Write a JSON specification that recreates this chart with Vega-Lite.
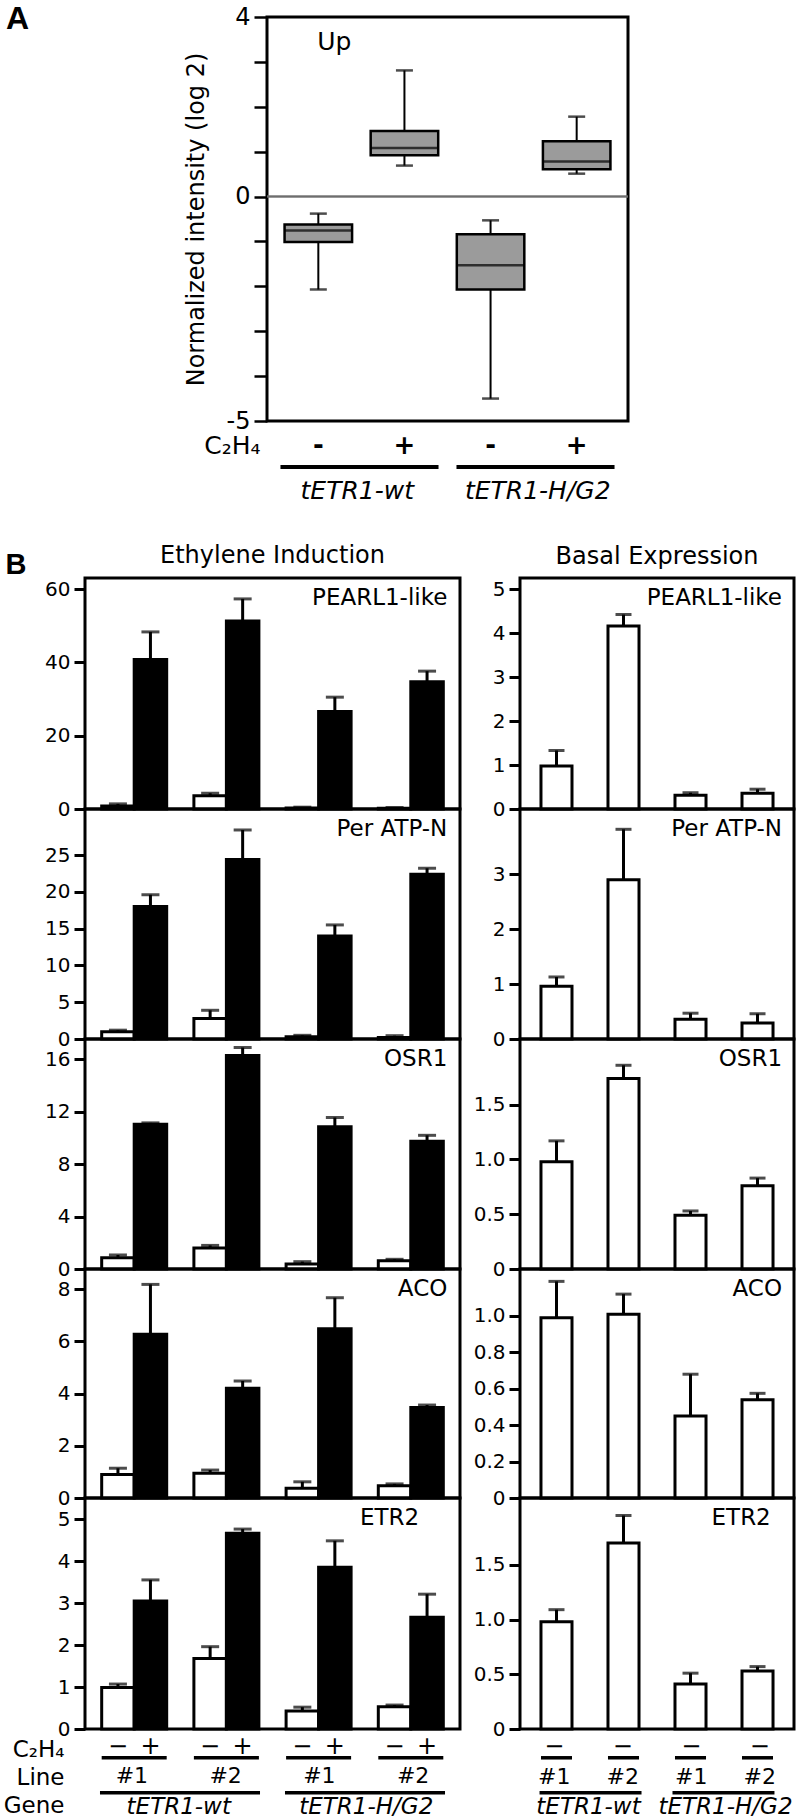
{
"$schema":"https://vega.github.io/schema/vega-lite/v6.json",
"padding":{"left":1,"top":1,"right":0,"bottom":0},
"background":"white",
"config":{
 "view":{"stroke":null},
 "font":"DejaVu Sans",
 "axis":{"domain":false,"grid":false,"tickColor":"black","tickWidth":3,"tickSize":11,"labelColor":"black","labelFont":"DejaVu Sans","labelFontSize":20,"labelPadding":4,"labelFlush":false,"labelOverlap":false,"labelBound":false,"titleColor":"black","titleFont":"DejaVu Sans","titleFontWeight":"normal"},
 "title":{"font":"DejaVu Sans","fontSize":24,"fontWeight":"normal","color":"black"},
 "text":{"font":"DejaVu Sans","color":"black"}
},
"datasets":{
 "boxes":[
  {"cond":"wt-","construct":"tETR1-wt","c2h4":"-","lower":-2.07,"q1":-1.015,"median":-0.755,"q3":-0.62,"upper":-0.38},
  {"cond":"wt+","construct":"tETR1-wt","c2h4":"+","lower":0.69,"q1":0.92,"median":1.08,"q3":1.46,"upper":2.81},
  {"cond":"hg-","construct":"tETR1-H/G2","c2h4":"-","lower":-4.5,"q1":-2.07,"median":-1.53,"q3":-0.84,"upper":-0.53},
  {"cond":"hg+","construct":"tETR1-H/G2","c2h4":"+","lower":0.51,"q1":0.61,"median":0.78,"q3":1.23,"upper":1.78}
 ],
 "induction":[
  {"gene":"PEARL1-like","construct":"tETR1-wt","line":"#1","grp":"wt#1","c2h4":"−","value":0.8,"upper":1.4},
  {"gene":"PEARL1-like","construct":"tETR1-wt","line":"#1","grp":"wt#1","c2h4":"+","value":40.8,"upper":48.3},
  {"gene":"PEARL1-like","construct":"tETR1-wt","line":"#2","grp":"wt#2","c2h4":"−","value":3.6,"upper":4.3},
  {"gene":"PEARL1-like","construct":"tETR1-wt","line":"#2","grp":"wt#2","c2h4":"+","value":51.3,"upper":57.3},
  {"gene":"PEARL1-like","construct":"tETR1-H/G2","line":"#1","grp":"hg#1","c2h4":"−","value":0.3,"upper":0.5},
  {"gene":"PEARL1-like","construct":"tETR1-H/G2","line":"#1","grp":"hg#1","c2h4":"+","value":26.6,"upper":30.5},
  {"gene":"PEARL1-like","construct":"tETR1-H/G2","line":"#2","grp":"hg#2","c2h4":"−","value":0.2,"upper":0.4},
  {"gene":"PEARL1-like","construct":"tETR1-H/G2","line":"#2","grp":"hg#2","c2h4":"+","value":34.7,"upper":37.6},
  {"gene":"Per ATP-N","construct":"tETR1-wt","line":"#1","grp":"wt#1","c2h4":"−","value":1.0,"upper":1.2},
  {"gene":"Per ATP-N","construct":"tETR1-wt","line":"#1","grp":"wt#1","c2h4":"+","value":18.0,"upper":19.6},
  {"gene":"Per ATP-N","construct":"tETR1-wt","line":"#2","grp":"wt#2","c2h4":"−","value":2.8,"upper":3.9},
  {"gene":"Per ATP-N","construct":"tETR1-wt","line":"#2","grp":"wt#2","c2h4":"+","value":24.4,"upper":28.4},
  {"gene":"Per ATP-N","construct":"tETR1-H/G2","line":"#1","grp":"hg#1","c2h4":"−","value":0.3,"upper":0.5},
  {"gene":"Per ATP-N","construct":"tETR1-H/G2","line":"#1","grp":"hg#1","c2h4":"+","value":14.0,"upper":15.5},
  {"gene":"Per ATP-N","construct":"tETR1-H/G2","line":"#2","grp":"hg#2","c2h4":"−","value":0.2,"upper":0.45},
  {"gene":"Per ATP-N","construct":"tETR1-H/G2","line":"#2","grp":"hg#2","c2h4":"+","value":22.4,"upper":23.2},
  {"gene":"OSR1","construct":"tETR1-wt","line":"#1","grp":"wt#1","c2h4":"−","value":0.86,"upper":1.07},
  {"gene":"OSR1","construct":"tETR1-wt","line":"#1","grp":"wt#1","c2h4":"+","value":11.05,"upper":11.15},
  {"gene":"OSR1","construct":"tETR1-wt","line":"#2","grp":"wt#2","c2h4":"−","value":1.6,"upper":1.8},
  {"gene":"OSR1","construct":"tETR1-wt","line":"#2","grp":"wt#2","c2h4":"+","value":16.3,"upper":16.9},
  {"gene":"OSR1","construct":"tETR1-H/G2","line":"#1","grp":"hg#1","c2h4":"−","value":0.38,"upper":0.56},
  {"gene":"OSR1","construct":"tETR1-H/G2","line":"#1","grp":"hg#1","c2h4":"+","value":10.85,"upper":11.56},
  {"gene":"OSR1","construct":"tETR1-H/G2","line":"#2","grp":"hg#2","c2h4":"−","value":0.63,"upper":0.74},
  {"gene":"OSR1","construct":"tETR1-H/G2","line":"#2","grp":"hg#2","c2h4":"+","value":9.75,"upper":10.2},
  {"gene":"ACO","construct":"tETR1-wt","line":"#1","grp":"wt#1","c2h4":"−","value":0.9,"upper":1.14},
  {"gene":"ACO","construct":"tETR1-wt","line":"#1","grp":"wt#1","c2h4":"+","value":6.27,"upper":8.18},
  {"gene":"ACO","construct":"tETR1-wt","line":"#2","grp":"wt#2","c2h4":"−","value":0.95,"upper":1.07},
  {"gene":"ACO","construct":"tETR1-wt","line":"#2","grp":"wt#2","c2h4":"+","value":4.2,"upper":4.48},
  {"gene":"ACO","construct":"tETR1-H/G2","line":"#1","grp":"hg#1","c2h4":"−","value":0.37,"upper":0.62},
  {"gene":"ACO","construct":"tETR1-H/G2","line":"#1","grp":"hg#1","c2h4":"+","value":6.48,"upper":7.67},
  {"gene":"ACO","construct":"tETR1-H/G2","line":"#2","grp":"hg#2","c2h4":"−","value":0.47,"upper":0.54},
  {"gene":"ACO","construct":"tETR1-H/G2","line":"#2","grp":"hg#2","c2h4":"+","value":3.47,"upper":3.56},
  {"gene":"ETR2","construct":"tETR1-wt","line":"#1","grp":"wt#1","c2h4":"−","value":0.99,"upper":1.07},
  {"gene":"ETR2","construct":"tETR1-wt","line":"#1","grp":"wt#1","c2h4":"+","value":3.05,"upper":3.55},
  {"gene":"ETR2","construct":"tETR1-wt","line":"#2","grp":"wt#2","c2h4":"−","value":1.68,"upper":1.96},
  {"gene":"ETR2","construct":"tETR1-wt","line":"#2","grp":"wt#2","c2h4":"+","value":4.66,"upper":4.76},
  {"gene":"ETR2","construct":"tETR1-H/G2","line":"#1","grp":"hg#1","c2h4":"−","value":0.43,"upper":0.52},
  {"gene":"ETR2","construct":"tETR1-H/G2","line":"#1","grp":"hg#1","c2h4":"+","value":3.85,"upper":4.48},
  {"gene":"ETR2","construct":"tETR1-H/G2","line":"#2","grp":"hg#2","c2h4":"−","value":0.53,"upper":0.57},
  {"gene":"ETR2","construct":"tETR1-H/G2","line":"#2","grp":"hg#2","c2h4":"+","value":2.66,"upper":3.21}
 ],
 "basal":[
  {"gene":"PEARL1-like","construct":"tETR1-wt","line":"#1","grp":"wt#1","c2h4":"−","value":0.98,"upper":1.33},
  {"gene":"PEARL1-like","construct":"tETR1-wt","line":"#2","grp":"wt#2","c2h4":"−","value":4.16,"upper":4.42},
  {"gene":"PEARL1-like","construct":"tETR1-H/G2","line":"#1","grp":"hg#1","c2h4":"−","value":0.31,"upper":0.37},
  {"gene":"PEARL1-like","construct":"tETR1-H/G2","line":"#2","grp":"hg#2","c2h4":"−","value":0.36,"upper":0.45},
  {"gene":"Per ATP-N","construct":"tETR1-wt","line":"#1","grp":"wt#1","c2h4":"−","value":0.96,"upper":1.13},
  {"gene":"Per ATP-N","construct":"tETR1-wt","line":"#2","grp":"wt#2","c2h4":"−","value":2.9,"upper":3.82},
  {"gene":"Per ATP-N","construct":"tETR1-H/G2","line":"#1","grp":"hg#1","c2h4":"−","value":0.36,"upper":0.47},
  {"gene":"Per ATP-N","construct":"tETR1-H/G2","line":"#2","grp":"hg#2","c2h4":"−","value":0.29,"upper":0.46},
  {"gene":"OSR1","construct":"tETR1-wt","line":"#1","grp":"wt#1","c2h4":"−","value":0.98,"upper":1.17},
  {"gene":"OSR1","construct":"tETR1-wt","line":"#2","grp":"wt#2","c2h4":"−","value":1.74,"upper":1.86},
  {"gene":"OSR1","construct":"tETR1-H/G2","line":"#1","grp":"hg#1","c2h4":"−","value":0.49,"upper":0.53},
  {"gene":"OSR1","construct":"tETR1-H/G2","line":"#2","grp":"hg#2","c2h4":"−","value":0.76,"upper":0.83},
  {"gene":"ACO","construct":"tETR1-wt","line":"#1","grp":"wt#1","c2h4":"−","value":0.99,"upper":1.19},
  {"gene":"ACO","construct":"tETR1-wt","line":"#2","grp":"wt#2","c2h4":"−","value":1.01,"upper":1.12},
  {"gene":"ACO","construct":"tETR1-H/G2","line":"#1","grp":"hg#1","c2h4":"−","value":0.45,"upper":0.68},
  {"gene":"ACO","construct":"tETR1-H/G2","line":"#2","grp":"hg#2","c2h4":"−","value":0.54,"upper":0.575},
  {"gene":"ETR2","construct":"tETR1-wt","line":"#1","grp":"wt#1","c2h4":"−","value":0.98,"upper":1.09},
  {"gene":"ETR2","construct":"tETR1-wt","line":"#2","grp":"wt#2","c2h4":"−","value":1.7,"upper":1.95},
  {"gene":"ETR2","construct":"tETR1-H/G2","line":"#1","grp":"hg#1","c2h4":"−","value":0.41,"upper":0.51},
  {"gene":"ETR2","construct":"tETR1-H/G2","line":"#2","grp":"hg#2","c2h4":"−","value":0.53,"upper":0.57}
 ]
},
"columns":1,
"align":"each",
"spacing":36,
"concat":[
 {"bounds":"flush","spacing":0,"hconcat":[
  {"width":182,"height":404,"data":{"values":[]},"mark":{"type":"point","opacity":0},"encoding":{}},
  {"width":361,"height":404,"view":{"stroke":"black","strokeWidth":3},"data":{"name":"boxes"},
   "title":{"text":"A","anchor":"start","frame":"group","dx":-261,"offset":-31,"font":"Liberation Sans","fontSize":32,"fontWeight":"bold"},
   "resolve":{"scale":{"x":"independent"}},
   "layer":[
    {"mark":{"type":"rule","color":"#6e6e6e","strokeWidth":1.5},"encoding":{"y":{"datum":0,"type":"quantitative","scale":{"domain":[-5,4],"nice":false,"zero":false},"axis":{"values":[-5,-4,-3,-2,-1,0,1,2,3,4],"labelExpr":"datum.value == 4 ? '4' : datum.value == 0 ? '0' : datum.value == -5 ? '-5' : ''","labelOverlap":false,"tickSize":13,"tickWidth":2.5,"labelFontSize":24,"labelPadding":4,"title":"Normalized intensity (log 2)","titleFontSize":24,"titlePadding":18}}}},
    {"mark":{"type":"rule","color":"black","strokeWidth":2},"encoding":{
      "x":{"field":"cond","type":"nominal","sort":null,"scale":{"domain":["wt-","wt+","hg-","hg+"],"paddingInner":0.216,"paddingOuter":0.204},"axis":{"labelExpr":"slice(datum.value, -1)","ticks":false,"tickSize":0,"domain":false,"labelAngle":0,"labelPadding":24,"labelBaseline":"middle","labelFontSize":26,"labelFontWeight":"bold","title":"C₂H₄","titleAngle":0,"titleAlign":"right","titleBaseline":"middle","titleX":-7,"titleY":24,"titleFontSize":25}},
      "y":{"field":"lower","type":"quantitative","scale":{"domain":[-5,4],"nice":false,"zero":false}},"y2":{"field":"upper"}}},
    {"mark":{"type":"bar","fill":"#9b9b9b","stroke":"black","strokeWidth":2.5},"encoding":{
      "x":{"field":"cond","type":"nominal","sort":null,"scale":{"domain":["wt-","wt+","hg-","hg+"],"paddingInner":0.216,"paddingOuter":0.204},"axis":null},
      "y":{"field":"q1","type":"quantitative","scale":{"domain":[-5,4],"nice":false,"zero":false}},"y2":{"field":"q3"}}},
    {"mark":{"type":"tick","orient":"horizontal","color":"black","size":67.5,"thickness":2.5},"encoding":{
      "x":{"field":"cond","type":"nominal","sort":null,"scale":{"domain":["wt-","wt+","hg-","hg+"],"paddingInner":0.216,"paddingOuter":0.204},"axis":null},
      "y":{"field":"median","type":"quantitative","scale":{"domain":[-5,4],"nice":false,"zero":false}}}},
    {"mark":{"type":"tick","orient":"horizontal","color":"black","size":17,"thickness":2.5},"encoding":{
      "x":{"field":"cond","type":"nominal","sort":null,"scale":{"domain":["wt-","wt+","hg-","hg+"],"paddingInner":0.216,"paddingOuter":0.204},"axis":null},
      "y":{"field":"lower","type":"quantitative","scale":{"domain":[-5,4],"nice":false,"zero":false}}}},
    {"mark":{"type":"tick","orient":"horizontal","color":"black","size":17,"thickness":2.5},"encoding":{
      "x":{"field":"cond","type":"nominal","sort":null,"scale":{"domain":["wt-","wt+","hg-","hg+"],"paddingInner":0.216,"paddingOuter":0.204},"axis":null},
      "y":{"field":"upper","type":"quantitative","scale":{"domain":[-5,4],"nice":false,"zero":false}}}},
    {"transform":[{"filter":"datum.cond == 'wt-'"}],"mark":{"type":"text","align":"left","baseline":"top","dx":5,"dy":13,"fontSize":25},"encoding":{
      "x":{"field":"cond","type":"nominal","sort":null,"bandPosition":0,"scale":{"domain":["wt-","wt+","hg-","hg+"],"paddingInner":0.216,"paddingOuter":0.204},"axis":null},
      "y":{"datum":4,"type":"quantitative","scale":{"domain":[-5,4],"nice":false,"zero":false}},"text":{"value":"Up"}}},
    {"transform":[{"filter":"datum.c2h4 == '-'"}],"mark":{"type":"bar","color":"black"},"encoding":{
      "x":{"field":"construct","type":"nominal","sort":null,"scale":{"domain":["tETR1-wt","tETR1-H/G2"],"paddingInner":0.102,"paddingOuter":0.0765},"axis":null},
      "y":{"datum":-5.98,"type":"quantitative","scale":{"domain":[-5,4],"nice":false,"zero":false}},"y2":{"datum":-6.07}}},
    {"transform":[{"filter":"datum.c2h4 == '-'"}],"mark":{"type":"text","baseline":"middle","fontSize":25,"fontStyle":"italic"},"encoding":{
      "x":{"field":"construct","type":"nominal","sort":null,"scale":{"domain":["tETR1-wt","tETR1-H/G2"],"paddingInner":0.102,"paddingOuter":0.0765},"axis":null},
      "y":{"datum":-6.56,"type":"quantitative","scale":{"domain":[-5,4],"nice":false,"zero":false}},"text":{"field":"construct"}}}
   ]}
 ]},
 {"columns":2,"bounds":"flush","align":"each","spacing":{"row":0,"column":60},"concat":[
   {"width":375,"height":231,"view":{"stroke":"black","strokeWidth":3},"data":{"name":"induction"},"transform":[{"filter":"datum.gene == 'PEARL1-like'"}],
    "title":{"text":"Ethylene Induction","anchor":"middle","offset":-18},
    "layer":[
     {"mark":{"type":"bar","stroke":"black","strokeWidth":3},"encoding":{"x":{"field":"grp","type":"nominal","sort":null,"scale":{"domain":["wt#1","wt#2","hg#1","hg#2"],"paddingInner":0.295,"paddingOuter":0.181},"axis":null},"xOffset":{"field":"c2h4","type":"nominal","sort":null,"scale":{"domain":["−","+"],"paddingInner":0,"paddingOuter":0}},"y":{"field":"value","type":"quantitative","scale":{"domain":[0,63],"nice":false},"axis":{"values":[0,10,20,30,40,50,60],"format":"d","labelOverlap":false,"title":"B","titleAngle":0,"titleAlign":"left","titleBaseline":"alphabetic","titleX":-80,"titleY":-5,"titleFont":"Liberation Sans","titleFontSize":29,"titleFontWeight":"bold"}},"fill":{"field":"c2h4","type":"nominal","scale":{"domain":["−","+"],"range":["white","black"]},"legend":null}}},
     {"mark":{"type":"rule","color":"black","strokeWidth":3},"encoding":{"x":{"field":"grp","type":"nominal","sort":null,"scale":{"domain":["wt#1","wt#2","hg#1","hg#2"],"paddingInner":0.295,"paddingOuter":0.181},"axis":null},"xOffset":{"field":"c2h4","type":"nominal","sort":null,"scale":{"domain":["−","+"],"paddingInner":0,"paddingOuter":0}},"y":{"field":"value","type":"quantitative","scale":{"domain":[0,63],"nice":false}},"y2":{"field":"upper"}}},
     {"mark":{"type":"tick","orient":"horizontal","color":"black","size":18,"thickness":3},"encoding":{"x":{"field":"grp","type":"nominal","sort":null,"scale":{"domain":["wt#1","wt#2","hg#1","hg#2"],"paddingInner":0.295,"paddingOuter":0.181},"axis":null},"xOffset":{"field":"c2h4","type":"nominal","sort":null,"scale":{"domain":["−","+"],"paddingInner":0,"paddingOuter":0}},"y":{"field":"upper","type":"quantitative","scale":{"domain":[0,63],"nice":false}}}},
     {"transform":[{"filter":"datum.grp == 'hg#2' && datum.c2h4 == '+'"}],"mark":{"type":"text","align":"right","baseline":"top","dx":4,"dy":9,"fontSize":23},"encoding":{"x":{"field":"grp","type":"nominal","sort":null,"bandPosition":1,"scale":{"domain":["wt#1","wt#2","hg#1","hg#2"],"paddingInner":0.295,"paddingOuter":0.181},"axis":null},"y":{"datum":63,"type":"quantitative","scale":{"domain":[0,63],"nice":false}},"text":{"field":"gene"}}}
    ]},
   {"width":274,"height":231,"view":{"stroke":"black","strokeWidth":3},"data":{"name":"basal"},"transform":[{"filter":"datum.gene == 'PEARL1-like'"}],
    "title":{"text":"Basal Expression","anchor":"middle","offset":9},
    "layer":[
     {"mark":{"type":"bar","fill":"white","stroke":"black","strokeWidth":3},"encoding":{"x":{"field":"grp","type":"nominal","sort":null,"scale":{"domain":["wt#1","wt#2","hg#1","hg#2"],"paddingInner":0.537,"paddingOuter":0.313},"axis":null},"y":{"field":"value","type":"quantitative","scale":{"domain":[0,5.25],"nice":false},"axis":{"values":[0,1,2,3,4,5],"format":"d","labelOverlap":false,"title":null}}}},
     {"mark":{"type":"rule","color":"black","strokeWidth":3},"encoding":{"x":{"field":"grp","type":"nominal","sort":null,"scale":{"domain":["wt#1","wt#2","hg#1","hg#2"],"paddingInner":0.537,"paddingOuter":0.313},"axis":null},"y":{"field":"value","type":"quantitative","scale":{"domain":[0,5.25],"nice":false}},"y2":{"field":"upper"}}},
     {"mark":{"type":"tick","orient":"horizontal","color":"black","size":16,"thickness":3},"encoding":{"x":{"field":"grp","type":"nominal","sort":null,"scale":{"domain":["wt#1","wt#2","hg#1","hg#2"],"paddingInner":0.537,"paddingOuter":0.313},"axis":null},"y":{"field":"upper","type":"quantitative","scale":{"domain":[0,5.25],"nice":false}}}},
     {"transform":[{"filter":"datum.grp == 'hg#2'"}],"mark":{"type":"text","align":"right","baseline":"top","dx":9,"dy":9,"fontSize":23},"encoding":{"x":{"field":"grp","type":"nominal","sort":null,"bandPosition":1,"scale":{"domain":["wt#1","wt#2","hg#1","hg#2"],"paddingInner":0.537,"paddingOuter":0.313},"axis":null},"y":{"datum":5.25,"type":"quantitative","scale":{"domain":[0,5.25],"nice":false}},"text":{"field":"gene"}}}
    ]},
   {"width":375,"height":230,"view":{"stroke":"black","strokeWidth":3},"data":{"name":"induction"},"transform":[{"filter":"datum.gene == 'Per ATP-N'"}],
    "layer":[
     {"mark":{"type":"bar","stroke":"black","strokeWidth":3},"encoding":{"x":{"field":"grp","type":"nominal","sort":null,"scale":{"domain":["wt#1","wt#2","hg#1","hg#2"],"paddingInner":0.295,"paddingOuter":0.181},"axis":null},"xOffset":{"field":"c2h4","type":"nominal","sort":null,"scale":{"domain":["−","+"],"paddingInner":0,"paddingOuter":0}},"y":{"field":"value","type":"quantitative","scale":{"domain":[0,31.25],"nice":false},"axis":{"values":[0,5,10,15,20,25],"format":"d","labelOverlap":false,"title":null}},"fill":{"field":"c2h4","type":"nominal","scale":{"domain":["−","+"],"range":["white","black"]},"legend":null}}},
     {"mark":{"type":"rule","color":"black","strokeWidth":3},"encoding":{"x":{"field":"grp","type":"nominal","sort":null,"scale":{"domain":["wt#1","wt#2","hg#1","hg#2"],"paddingInner":0.295,"paddingOuter":0.181},"axis":null},"xOffset":{"field":"c2h4","type":"nominal","sort":null,"scale":{"domain":["−","+"],"paddingInner":0,"paddingOuter":0}},"y":{"field":"value","type":"quantitative","scale":{"domain":[0,31.25],"nice":false}},"y2":{"field":"upper"}}},
     {"mark":{"type":"tick","orient":"horizontal","color":"black","size":18,"thickness":3},"encoding":{"x":{"field":"grp","type":"nominal","sort":null,"scale":{"domain":["wt#1","wt#2","hg#1","hg#2"],"paddingInner":0.295,"paddingOuter":0.181},"axis":null},"xOffset":{"field":"c2h4","type":"nominal","sort":null,"scale":{"domain":["−","+"],"paddingInner":0,"paddingOuter":0}},"y":{"field":"upper","type":"quantitative","scale":{"domain":[0,31.25],"nice":false}}}},
     {"transform":[{"filter":"datum.grp == 'hg#2' && datum.c2h4 == '+'"}],"mark":{"type":"text","align":"right","baseline":"top","dx":4,"dy":9,"fontSize":23},"encoding":{"x":{"field":"grp","type":"nominal","sort":null,"bandPosition":1,"scale":{"domain":["wt#1","wt#2","hg#1","hg#2"],"paddingInner":0.295,"paddingOuter":0.181},"axis":null},"y":{"datum":31.25,"type":"quantitative","scale":{"domain":[0,31.25],"nice":false}},"text":{"field":"gene"}}}
    ]},
   {"width":274,"height":230,"view":{"stroke":"black","strokeWidth":3},"data":{"name":"basal"},"transform":[{"filter":"datum.gene == 'Per ATP-N'"}],
    "layer":[
     {"mark":{"type":"bar","fill":"white","stroke":"black","strokeWidth":3},"encoding":{"x":{"field":"grp","type":"nominal","sort":null,"scale":{"domain":["wt#1","wt#2","hg#1","hg#2"],"paddingInner":0.537,"paddingOuter":0.313},"axis":null},"y":{"field":"value","type":"quantitative","scale":{"domain":[0,4.19],"nice":false},"axis":{"values":[0,1,2,3],"format":"d","labelOverlap":false,"title":null}}}},
     {"mark":{"type":"rule","color":"black","strokeWidth":3},"encoding":{"x":{"field":"grp","type":"nominal","sort":null,"scale":{"domain":["wt#1","wt#2","hg#1","hg#2"],"paddingInner":0.537,"paddingOuter":0.313},"axis":null},"y":{"field":"value","type":"quantitative","scale":{"domain":[0,4.19],"nice":false}},"y2":{"field":"upper"}}},
     {"mark":{"type":"tick","orient":"horizontal","color":"black","size":16,"thickness":3},"encoding":{"x":{"field":"grp","type":"nominal","sort":null,"scale":{"domain":["wt#1","wt#2","hg#1","hg#2"],"paddingInner":0.537,"paddingOuter":0.313},"axis":null},"y":{"field":"upper","type":"quantitative","scale":{"domain":[0,4.19],"nice":false}}}},
     {"transform":[{"filter":"datum.grp == 'hg#2'"}],"mark":{"type":"text","align":"right","baseline":"top","dx":9,"dy":9,"fontSize":23},"encoding":{"x":{"field":"grp","type":"nominal","sort":null,"bandPosition":1,"scale":{"domain":["wt#1","wt#2","hg#1","hg#2"],"paddingInner":0.537,"paddingOuter":0.313},"axis":null},"y":{"datum":4.19,"type":"quantitative","scale":{"domain":[0,4.19],"nice":false}},"text":{"field":"gene"}}}
    ]},
   {"width":375,"height":230,"view":{"stroke":"black","strokeWidth":3},"data":{"name":"induction"},"transform":[{"filter":"datum.gene == 'OSR1'"}],
    "layer":[
     {"mark":{"type":"bar","stroke":"black","strokeWidth":3},"encoding":{"x":{"field":"grp","type":"nominal","sort":null,"scale":{"domain":["wt#1","wt#2","hg#1","hg#2"],"paddingInner":0.295,"paddingOuter":0.181},"axis":null},"xOffset":{"field":"c2h4","type":"nominal","sort":null,"scale":{"domain":["−","+"],"paddingInner":0,"paddingOuter":0}},"y":{"field":"value","type":"quantitative","scale":{"domain":[0,17.55],"nice":false},"axis":{"values":[0,4,8,12,16],"format":"d","labelOverlap":false,"title":null}},"fill":{"field":"c2h4","type":"nominal","scale":{"domain":["−","+"],"range":["white","black"]},"legend":null}}},
     {"mark":{"type":"rule","color":"black","strokeWidth":3},"encoding":{"x":{"field":"grp","type":"nominal","sort":null,"scale":{"domain":["wt#1","wt#2","hg#1","hg#2"],"paddingInner":0.295,"paddingOuter":0.181},"axis":null},"xOffset":{"field":"c2h4","type":"nominal","sort":null,"scale":{"domain":["−","+"],"paddingInner":0,"paddingOuter":0}},"y":{"field":"value","type":"quantitative","scale":{"domain":[0,17.55],"nice":false}},"y2":{"field":"upper"}}},
     {"mark":{"type":"tick","orient":"horizontal","color":"black","size":18,"thickness":3},"encoding":{"x":{"field":"grp","type":"nominal","sort":null,"scale":{"domain":["wt#1","wt#2","hg#1","hg#2"],"paddingInner":0.295,"paddingOuter":0.181},"axis":null},"xOffset":{"field":"c2h4","type":"nominal","sort":null,"scale":{"domain":["−","+"],"paddingInner":0,"paddingOuter":0}},"y":{"field":"upper","type":"quantitative","scale":{"domain":[0,17.55],"nice":false}}}},
     {"transform":[{"filter":"datum.grp == 'hg#2' && datum.c2h4 == '+'"}],"mark":{"type":"text","align":"right","baseline":"top","dx":4,"dy":9,"fontSize":23},"encoding":{"x":{"field":"grp","type":"nominal","sort":null,"bandPosition":1,"scale":{"domain":["wt#1","wt#2","hg#1","hg#2"],"paddingInner":0.295,"paddingOuter":0.181},"axis":null},"y":{"datum":17.55,"type":"quantitative","scale":{"domain":[0,17.55],"nice":false}},"text":{"field":"gene"}}}
    ]},
   {"width":274,"height":230,"view":{"stroke":"black","strokeWidth":3},"data":{"name":"basal"},"transform":[{"filter":"datum.gene == 'OSR1'"}],
    "layer":[
     {"mark":{"type":"bar","fill":"white","stroke":"black","strokeWidth":3},"encoding":{"x":{"field":"grp","type":"nominal","sort":null,"scale":{"domain":["wt#1","wt#2","hg#1","hg#2"],"paddingInner":0.537,"paddingOuter":0.313},"axis":null},"y":{"field":"value","type":"quantitative","scale":{"domain":[0,2.1],"nice":false},"axis":{"values":[0,0.5,1,1.5],"labelExpr":"datum.value == 0 ? '0' : format(datum.value, '.1f')","labelOverlap":false,"title":null}}}},
     {"mark":{"type":"rule","color":"black","strokeWidth":3},"encoding":{"x":{"field":"grp","type":"nominal","sort":null,"scale":{"domain":["wt#1","wt#2","hg#1","hg#2"],"paddingInner":0.537,"paddingOuter":0.313},"axis":null},"y":{"field":"value","type":"quantitative","scale":{"domain":[0,2.1],"nice":false}},"y2":{"field":"upper"}}},
     {"mark":{"type":"tick","orient":"horizontal","color":"black","size":16,"thickness":3},"encoding":{"x":{"field":"grp","type":"nominal","sort":null,"scale":{"domain":["wt#1","wt#2","hg#1","hg#2"],"paddingInner":0.537,"paddingOuter":0.313},"axis":null},"y":{"field":"upper","type":"quantitative","scale":{"domain":[0,2.1],"nice":false}}}},
     {"transform":[{"filter":"datum.grp == 'hg#2'"}],"mark":{"type":"text","align":"right","baseline":"top","dx":9,"dy":9,"fontSize":23},"encoding":{"x":{"field":"grp","type":"nominal","sort":null,"bandPosition":1,"scale":{"domain":["wt#1","wt#2","hg#1","hg#2"],"paddingInner":0.537,"paddingOuter":0.313},"axis":null},"y":{"datum":2.1,"type":"quantitative","scale":{"domain":[0,2.1],"nice":false}},"text":{"field":"gene"}}}
    ]},
   {"width":375,"height":229,"view":{"stroke":"black","strokeWidth":3},"data":{"name":"induction"},"transform":[{"filter":"datum.gene == 'ACO'"}],
    "layer":[
     {"mark":{"type":"bar","stroke":"black","strokeWidth":3},"encoding":{"x":{"field":"grp","type":"nominal","sort":null,"scale":{"domain":["wt#1","wt#2","hg#1","hg#2"],"paddingInner":0.295,"paddingOuter":0.181},"axis":null},"xOffset":{"field":"c2h4","type":"nominal","sort":null,"scale":{"domain":["−","+"],"paddingInner":0,"paddingOuter":0}},"y":{"field":"value","type":"quantitative","scale":{"domain":[0,8.77],"nice":false},"axis":{"values":[0,2,4,6,8],"format":"d","labelOverlap":false,"title":null}},"fill":{"field":"c2h4","type":"nominal","scale":{"domain":["−","+"],"range":["white","black"]},"legend":null}}},
     {"mark":{"type":"rule","color":"black","strokeWidth":3},"encoding":{"x":{"field":"grp","type":"nominal","sort":null,"scale":{"domain":["wt#1","wt#2","hg#1","hg#2"],"paddingInner":0.295,"paddingOuter":0.181},"axis":null},"xOffset":{"field":"c2h4","type":"nominal","sort":null,"scale":{"domain":["−","+"],"paddingInner":0,"paddingOuter":0}},"y":{"field":"value","type":"quantitative","scale":{"domain":[0,8.77],"nice":false}},"y2":{"field":"upper"}}},
     {"mark":{"type":"tick","orient":"horizontal","color":"black","size":18,"thickness":3},"encoding":{"x":{"field":"grp","type":"nominal","sort":null,"scale":{"domain":["wt#1","wt#2","hg#1","hg#2"],"paddingInner":0.295,"paddingOuter":0.181},"axis":null},"xOffset":{"field":"c2h4","type":"nominal","sort":null,"scale":{"domain":["−","+"],"paddingInner":0,"paddingOuter":0}},"y":{"field":"upper","type":"quantitative","scale":{"domain":[0,8.77],"nice":false}}}},
     {"transform":[{"filter":"datum.grp == 'hg#2' && datum.c2h4 == '+'"}],"mark":{"type":"text","align":"right","baseline":"top","dx":4,"dy":9,"fontSize":23},"encoding":{"x":{"field":"grp","type":"nominal","sort":null,"bandPosition":1,"scale":{"domain":["wt#1","wt#2","hg#1","hg#2"],"paddingInner":0.295,"paddingOuter":0.181},"axis":null},"y":{"datum":8.77,"type":"quantitative","scale":{"domain":[0,8.77],"nice":false}},"text":{"field":"gene"}}}
    ]},
   {"width":274,"height":229,"view":{"stroke":"black","strokeWidth":3},"data":{"name":"basal"},"transform":[{"filter":"datum.gene == 'ACO'"}],
    "layer":[
     {"mark":{"type":"bar","fill":"white","stroke":"black","strokeWidth":3},"encoding":{"x":{"field":"grp","type":"nominal","sort":null,"scale":{"domain":["wt#1","wt#2","hg#1","hg#2"],"paddingInner":0.537,"paddingOuter":0.313},"axis":null},"y":{"field":"value","type":"quantitative","scale":{"domain":[0,1.258],"nice":false},"axis":{"values":[0,0.2,0.4,0.6,0.8,1],"labelExpr":"datum.value == 0 ? '0' : format(datum.value, '.1f')","labelOverlap":false,"title":null}}}},
     {"mark":{"type":"rule","color":"black","strokeWidth":3},"encoding":{"x":{"field":"grp","type":"nominal","sort":null,"scale":{"domain":["wt#1","wt#2","hg#1","hg#2"],"paddingInner":0.537,"paddingOuter":0.313},"axis":null},"y":{"field":"value","type":"quantitative","scale":{"domain":[0,1.258],"nice":false}},"y2":{"field":"upper"}}},
     {"mark":{"type":"tick","orient":"horizontal","color":"black","size":16,"thickness":3},"encoding":{"x":{"field":"grp","type":"nominal","sort":null,"scale":{"domain":["wt#1","wt#2","hg#1","hg#2"],"paddingInner":0.537,"paddingOuter":0.313},"axis":null},"y":{"field":"upper","type":"quantitative","scale":{"domain":[0,1.258],"nice":false}}}},
     {"transform":[{"filter":"datum.grp == 'hg#2'"}],"mark":{"type":"text","align":"right","baseline":"top","dx":9,"dy":9,"fontSize":23},"encoding":{"x":{"field":"grp","type":"nominal","sort":null,"bandPosition":1,"scale":{"domain":["wt#1","wt#2","hg#1","hg#2"],"paddingInner":0.537,"paddingOuter":0.313},"axis":null},"y":{"datum":1.258,"type":"quantitative","scale":{"domain":[0,1.258],"nice":false}},"text":{"field":"gene"}}}
    ]},
   {"width":375,"height":231,"view":{"stroke":"black","strokeWidth":3},"data":{"name":"induction"},"transform":[{"filter":"datum.gene == 'ETR2'"}],
    "resolve":{"scale":{"x":"independent"}},
    "layer":[
     {"mark":{"type":"bar","stroke":"black","strokeWidth":3},"encoding":{"x":{"field":"grp","type":"nominal","sort":null,"scale":{"domain":["wt#1","wt#2","hg#1","hg#2"],"paddingInner":0.295,"paddingOuter":0.181},"axis":{"labels":false,"ticks":false,"tickSize":0,"domain":false,"title":["C₂H₄","Line","Gene"],"titleAngle":0,"titleAlign":"right","titleBaseline":"middle","titleX":-21,"titleY":20,"titleFontSize":23,"titleLineHeight":28}},"xOffset":{"field":"c2h4","type":"nominal","sort":null,"scale":{"domain":["−","+"],"paddingInner":0,"paddingOuter":0}},"y":{"field":"value","type":"quantitative","scale":{"domain":[0,5.5],"nice":false},"axis":{"values":[0,1,2,3,4,5],"format":"d","labelOverlap":false,"title":null}},"fill":{"field":"c2h4","type":"nominal","scale":{"domain":["−","+"],"range":["white","black"]},"legend":null}}},
     {"mark":{"type":"rule","color":"black","strokeWidth":3},"encoding":{"x":{"field":"grp","type":"nominal","sort":null,"scale":{"domain":["wt#1","wt#2","hg#1","hg#2"],"paddingInner":0.295,"paddingOuter":0.181},"axis":null},"xOffset":{"field":"c2h4","type":"nominal","sort":null,"scale":{"domain":["−","+"],"paddingInner":0,"paddingOuter":0}},"y":{"field":"value","type":"quantitative","scale":{"domain":[0,5.5],"nice":false}},"y2":{"field":"upper"}}},
     {"mark":{"type":"tick","orient":"horizontal","color":"black","size":18,"thickness":3},"encoding":{"x":{"field":"grp","type":"nominal","sort":null,"scale":{"domain":["wt#1","wt#2","hg#1","hg#2"],"paddingInner":0.295,"paddingOuter":0.181},"axis":null},"xOffset":{"field":"c2h4","type":"nominal","sort":null,"scale":{"domain":["−","+"],"paddingInner":0,"paddingOuter":0}},"y":{"field":"upper","type":"quantitative","scale":{"domain":[0,5.5],"nice":false}}}},
     {"transform":[{"filter":"datum.grp == 'hg#2' && datum.c2h4 == '+'"}],"mark":{"type":"text","align":"right","baseline":"top","dx":6,"dy":9,"fontSize":23},"encoding":{"x":{"field":"grp","type":"nominal","sort":null,"bandPosition":1,"scale":{"domain":["wt#1","wt#2","hg#1","hg#2"],"paddingInner":0.295,"paddingOuter":0.181},"axis":null},"y":{"datum":5.5,"type":"quantitative","scale":{"domain":[0,5.5],"nice":false}},"text":{"field":"gene"}}},
     {"mark":{"type":"text","baseline":"middle","fontSize":24},"encoding":{"x":{"field":"grp","type":"nominal","sort":null,"scale":{"domain":["wt#1","wt#2","hg#1","hg#2"],"paddingInner":0.295,"paddingOuter":0.181},"axis":null},"xOffset":{"field":"c2h4","type":"nominal","sort":null,"scale":{"domain":["−","+"],"paddingInner":0,"paddingOuter":0}},"y":{"datum":-0.43,"type":"quantitative","scale":{"domain":[0,5.5],"nice":false}},"text":{"field":"c2h4"}}},
     {"transform":[{"filter":"datum.c2h4 == '−'"}],"mark":{"type":"bar","color":"black"},"encoding":{"x":{"field":"grp","type":"nominal","sort":null,"scale":{"domain":["wt#1","wt#2","hg#1","hg#2"],"paddingInner":0.295,"paddingOuter":0.181},"axis":null},"y":{"datum":-0.64,"type":"quantitative","scale":{"domain":[0,5.5],"nice":false}},"y2":{"datum":-0.724}}},
     {"transform":[{"filter":"datum.c2h4 == '−'"}],"mark":{"type":"text","baseline":"middle","fontSize":22},"encoding":{"x":{"field":"grp","type":"nominal","sort":null,"scale":{"domain":["wt#1","wt#2","hg#1","hg#2"],"paddingInner":0.295,"paddingOuter":0.181},"axis":null},"y":{"datum":-1.13,"type":"quantitative","scale":{"domain":[0,5.5],"nice":false}},"text":{"field":"line"}}},
     {"transform":[{"filter":"datum.c2h4 == '−' && datum.line == '#1'"}],"mark":{"type":"bar","color":"black"},"encoding":{"x":{"field":"construct","type":"nominal","sort":null,"scale":{"domain":["tETR1-wt","tETR1-H/G2"],"paddingInner":0.135,"paddingOuter":0.081},"axis":null},"y":{"datum":-1.474,"type":"quantitative","scale":{"domain":[0,5.5],"nice":false}},"y2":{"datum":-1.557}}},
     {"transform":[{"filter":"datum.c2h4 == '−' && datum.line == '#1'"}],"mark":{"type":"text","baseline":"middle","fontSize":23,"fontStyle":"italic"},"encoding":{"x":{"field":"construct","type":"nominal","sort":null,"scale":{"domain":["tETR1-wt","tETR1-H/G2"],"paddingInner":0.135,"paddingOuter":0.081},"axis":null},"y":{"datum":-1.85,"type":"quantitative","scale":{"domain":[0,5.5],"nice":false}},"text":{"field":"construct"}}}
    ]},
   {"width":274,"height":231,"view":{"stroke":"black","strokeWidth":3},"data":{"name":"basal"},"transform":[{"filter":"datum.gene == 'ETR2'"}],
    "resolve":{"scale":{"x":"independent"}},
    "layer":[
     {"mark":{"type":"bar","fill":"white","stroke":"black","strokeWidth":3},"encoding":{"x":{"field":"grp","type":"nominal","sort":null,"scale":{"domain":["wt#1","wt#2","hg#1","hg#2"],"paddingInner":0.537,"paddingOuter":0.313},"axis":null},"y":{"field":"value","type":"quantitative","scale":{"domain":[0,2.11],"nice":false},"axis":{"values":[0,0.5,1,1.5],"labelExpr":"datum.value == 0 ? '0' : format(datum.value, '.1f')","labelOverlap":false,"title":null}}}},
     {"mark":{"type":"rule","color":"black","strokeWidth":3},"encoding":{"x":{"field":"grp","type":"nominal","sort":null,"scale":{"domain":["wt#1","wt#2","hg#1","hg#2"],"paddingInner":0.537,"paddingOuter":0.313},"axis":null},"y":{"field":"value","type":"quantitative","scale":{"domain":[0,2.11],"nice":false}},"y2":{"field":"upper"}}},
     {"mark":{"type":"tick","orient":"horizontal","color":"black","size":16,"thickness":3},"encoding":{"x":{"field":"grp","type":"nominal","sort":null,"scale":{"domain":["wt#1","wt#2","hg#1","hg#2"],"paddingInner":0.537,"paddingOuter":0.313},"axis":null},"y":{"field":"upper","type":"quantitative","scale":{"domain":[0,2.11],"nice":false}}}},
     {"transform":[{"filter":"datum.grp == 'hg#2'"}],"mark":{"type":"text","align":"right","baseline":"top","dx":11,"dy":9,"fontSize":23},"encoding":{"x":{"field":"grp","type":"nominal","sort":null,"bandPosition":1,"scale":{"domain":["wt#1","wt#2","hg#1","hg#2"],"paddingInner":0.537,"paddingOuter":0.313},"axis":null},"y":{"datum":2.11,"type":"quantitative","scale":{"domain":[0,2.11],"nice":false}},"text":{"field":"gene"}}},
     {"mark":{"type":"text","baseline":"middle","fontSize":24},"encoding":{"x":{"field":"grp","type":"nominal","sort":null,"scale":{"domain":["wt#1","wt#2","hg#1","hg#2"],"paddingInner":0.537,"paddingOuter":0.313},"axis":null},"y":{"datum":-0.165,"type":"quantitative","scale":{"domain":[0,2.11],"nice":false}},"text":{"field":"c2h4"}}},
     {"mark":{"type":"bar","color":"black"},"encoding":{"x":{"field":"grp","type":"nominal","sort":null,"scale":{"domain":["wt#1","wt#2","hg#1","hg#2"],"paddingInner":0.537,"paddingOuter":0.313},"axis":null},"y":{"datum":-0.247,"type":"quantitative","scale":{"domain":[0,2.11],"nice":false}},"y2":{"datum":-0.279}}},
     {"mark":{"type":"text","baseline":"middle","fontSize":22},"encoding":{"x":{"field":"grp","type":"nominal","sort":null,"scale":{"domain":["wt#1","wt#2","hg#1","hg#2"],"paddingInner":0.537,"paddingOuter":0.313},"axis":null},"y":{"datum":-0.434,"type":"quantitative","scale":{"domain":[0,2.11],"nice":false}},"text":{"field":"line"}}},
     {"transform":[{"filter":"datum.line == '#1'"}],"mark":{"type":"bar","color":"black"},"encoding":{"x":{"field":"construct","type":"nominal","sort":null,"scale":{"domain":["tETR1-wt","tETR1-H/G2"],"paddingInner":0.233,"paddingOuter":0.147},"axis":null},"y":{"datum":-0.567,"type":"quantitative","scale":{"domain":[0,2.11],"nice":false}},"y2":{"datum":-0.599}}},
     {"transform":[{"filter":"datum.line == '#1'"}],"mark":{"type":"text","baseline":"middle","fontSize":23,"fontStyle":"italic"},"encoding":{"x":{"field":"construct","type":"nominal","sort":null,"scale":{"domain":["tETR1-wt","tETR1-H/G2"],"paddingInner":0.233,"paddingOuter":0.147},"axis":null},"y":{"datum":-0.71,"type":"quantitative","scale":{"domain":[0,2.11],"nice":false}},"text":{"field":"construct"}}}
    ]}
 ]}
]
}
